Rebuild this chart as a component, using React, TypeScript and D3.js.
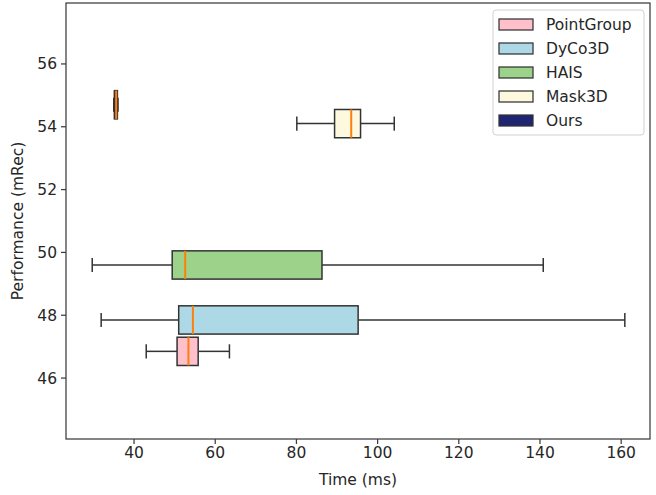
import React from "react";
import * as d3 from "d3";

const methods = ["PointGroup", "DyCo3D", "HAIS", "Mask3D", "Ours"];
const performance = [46.85, 47.85, 49.6, 54.1, 54.7];
const whiskerLow = [43.0, 31.9, 29.7, 80.1, 35.0];
const q1 = [50.6, 51.0, 49.4, 89.4, 35.15];
const median = [53.4, 54.5, 52.6, 93.5, 35.6];
const q3 = [55.8, 95.2, 86.3, 95.8, 35.9];
const whiskerHigh = [63.5, 160.9, 140.8, 104.1, 36.05];
const colors = ["#ffc0cb", "#add8e6", "#9dd28a", "#fcf9df", "#1f2573"];
const xTicks = [40, 60, 80, 100, 120, 140, 160];
const yTicks = [46, 48, 50, 52, 54, 56];

const W = 656, H = 495;
const L = 66, R = 650, T = 3, B = 439;
const boxWidth = 0.9;
const font = "DejaVu Sans, sans-serif";
const fs = 15.5;
const textColor = "#262626";
const edge = "#333333";

export default function App() {
  const x = d3.scaleLinear().domain([23.24, 167.1]).range([L, R]);
  const y = d3.scaleLinear().domain([44.06, 57.94]).range([B, T]);
  const half = (y(0) - y(boxWidth)) / 2;
  const cap = half / 2;

  return (
    <svg width={W} height={H} style={{ position: "absolute", left: 0, top: 0, background: "#fff" }}>
      {methods.map((m, i) => {
        const cy = y(performance[i]);
        return (
          <g key={m}>
            <line x1={x(whiskerLow[i])} x2={x(q1[i])} y1={cy} y2={cy} stroke={edge} strokeWidth={1.5} />
            <line x1={x(q3[i])} x2={x(whiskerHigh[i])} y1={cy} y2={cy} stroke={edge} strokeWidth={1.5} />
            <line x1={x(whiskerLow[i])} x2={x(whiskerLow[i])} y1={cy - cap} y2={cy + cap} stroke={edge} strokeWidth={1.5} />
            <line x1={x(whiskerHigh[i])} x2={x(whiskerHigh[i])} y1={cy - cap} y2={cy + cap} stroke={edge} strokeWidth={1.5} />
            <rect x={x(q1[i])} y={cy - half} width={x(q3[i]) - x(q1[i])} height={2 * half}
              fill={colors[i]} stroke={edge} strokeWidth={1.5} />
            <line x1={x(median[i])} x2={x(median[i])} y1={cy - half} y2={cy + half} stroke="#ff7f0e" strokeWidth={2} />
          </g>
        );
      })}
      <rect x={L} y={T} width={R - L} height={B - T} fill="none" stroke="#3c3c3c" strokeWidth={1.25} />
      {xTicks.map((t) => (
        <g key={t}>
          <line x1={x(t)} x2={x(t)} y1={B} y2={B + 5} stroke="#3c3c3c" strokeWidth={1.25} />
          <text x={x(t)} y={B + 19} textAnchor="middle" fontFamily={font} fontSize={fs} fill={textColor}>{t}</text>
        </g>
      ))}
      {yTicks.map((t) => (
        <g key={t}>
          <line x1={L - 5} x2={L} y1={y(t)} y2={y(t)} stroke="#3c3c3c" strokeWidth={1.25} />
          <text x={L - 9} y={y(t) + 5.5} textAnchor="end" fontFamily={font} fontSize={fs} fill={textColor}>{t}</text>
        </g>
      ))}
      <text x={(L + R) / 2} y={485} textAnchor="middle" fontFamily={font} fontSize={fs} fill={textColor}>Time (ms)</text>
      <text transform={`translate(23,${(T + B) / 2}) rotate(-90)`} textAnchor="middle" fontFamily={font} fontSize={fs} fill={textColor}>Performance (mRec)</text>
      <g>
        <rect x={493} y={10} width={151} height={125} rx={3} fill="#fff" fillOpacity={0.8} stroke="#d0d0d0" strokeWidth={1} />
        {methods.map((m, i) => {
          const ry = 24 + i * 24;
          return (
            <g key={m}>
              <rect x={499} y={ry - 5} width={34} height={11} fill={colors[i]} stroke={edge} strokeWidth={1.25} />
              <text x={546} y={ry + 5.5} fontFamily={font} fontSize={fs} fill={textColor}>{m}</text>
            </g>
          );
        })}
      </g>
    </svg>
  );
}
